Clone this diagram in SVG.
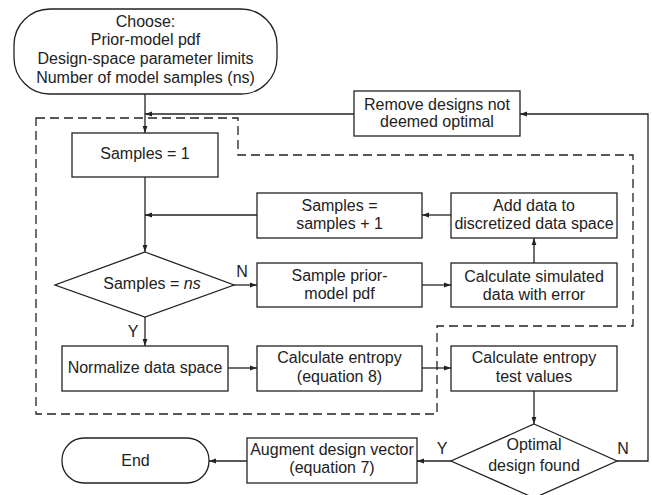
<svg xmlns="http://www.w3.org/2000/svg" width="652" height="495" viewBox="0 0 652 495">
<defs>
<marker id="ah" markerUnits="userSpaceOnUse" markerWidth="8" markerHeight="6" refX="7" refY="3" orient="auto">
<path d="M0,0.6 L7,3 L0,5.4 Z" fill="#222"/>
</marker>
<style>
.n{fill:#fff;stroke:#222;stroke-width:1.3}
.c{fill:none;stroke:#222;stroke-width:1.3}
.a{marker-end:url(#ah)}
.d{fill:none;stroke:#222;stroke-width:1.3;stroke-dasharray:9 5}
text{font-family:"Liberation Sans",Arial,sans-serif;font-size:16px;fill:#222;text-anchor:middle}
</style>
</defs>
<rect width="652" height="495" fill="#fff"/>
<path class="d" d="M36,118 H238 V155 H633 V326 H437 V414 H36 Z"/>
<g id="connectors">
<line class="c a" x1="145" y1="94" x2="145" y2="133"/>
<line class="c a" x1="354" y1="114" x2="145" y2="114"/>
<line class="c a" x1="145" y1="177" x2="145" y2="252"/>
<line class="c a" x1="257" y1="215" x2="145" y2="215"/>
<line class="c a" x1="451" y1="215" x2="422" y2="215"/>
<line class="c a" x1="234" y1="285" x2="257" y2="285"/>
<line class="c a" x1="422" y1="285" x2="451" y2="285"/>
<line class="c a" x1="534" y1="263" x2="534" y2="238"/>
<line class="c a" x1="145" y1="317" x2="145" y2="346"/>
<line class="c a" x1="228" y1="368" x2="257" y2="368"/>
<line class="c a" x1="422" y1="368" x2="451" y2="368"/>
<line class="c a" x1="534" y1="391" x2="534" y2="424"/>
<line class="c a" x1="451" y1="461" x2="417" y2="461"/>
<line class="c a" x1="247" y1="461" x2="209" y2="461"/>
<path class="c a" d="M617,461 H648 V114 H520"/>
<text x="242" y="277">N</text>
<text x="133" y="337">Y</text>
<text x="442" y="454">Y</text>
<text x="623" y="454">N</text>
</g>
<g id="start">
<rect class="n" x="14" y="9" width="263" height="85" rx="36"/>
<text x="145.5" y="27">Choose:</text>
<text x="145.5" y="45">Prior-model pdf</text>
<text x="145.5" y="64">Design-space parameter limits</text>
<text x="145.5" y="83">Number of model samples (ns)</text>
</g>
<g id="remove">
<rect class="n" x="354" y="91" width="166" height="45"/>
<text x="437" y="110">Remove designs not</text>
<text x="437" y="127">deemed optimal</text>
</g>
<g id="samples1">
<rect class="n" x="72" y="133" width="146" height="44"/>
<text x="145" y="159">Samples = 1</text>
</g>
<g id="increment">
<rect class="n" x="257" y="193" width="165" height="45"/>
<text x="339.5" y="211">Samples =</text>
<text x="339.5" y="229">samples + 1</text>
</g>
<g id="adddata">
<rect class="n" x="451" y="193" width="166" height="45"/>
<text x="534" y="211">Add data to</text>
<text x="534" y="229">discretized data space</text>
</g>
<g id="decision1">
<polygon class="n" points="145,252 234,285 145,317 55,285"/>
<text x="152" y="289">Samples = <tspan font-style="italic">ns</tspan></text>
</g>
<g id="sampleprior">
<rect class="n" x="257" y="263" width="165" height="44"/>
<text x="339.5" y="281">Sample prior-</text>
<text x="339.5" y="299">model pdf</text>
</g>
<g id="simulate">
<rect class="n" x="451" y="263" width="166" height="44"/>
<text x="534" y="282">Calculate simulated</text>
<text x="534" y="300">data with error</text>
</g>
<g id="normalize">
<rect class="n" x="62" y="346" width="166" height="45"/>
<text x="145" y="373">Normalize data space</text>
</g>
<g id="entropy">
<rect class="n" x="257" y="346" width="165" height="45"/>
<text x="339.5" y="363">Calculate entropy</text>
<text x="339.5" y="382">(equation 8)</text>
</g>
<g id="testvalues">
<rect class="n" x="451" y="346" width="166" height="45"/>
<text x="534" y="363">Calculate entropy</text>
<text x="534" y="382">test values</text>
</g>
<g id="decision2">
<polygon class="n" points="534,424 617,461 534,498 451,461"/>
<text x="534" y="450">Optimal</text>
<text x="534" y="471">design found</text>
</g>
<g id="augment">
<rect class="n" x="247" y="438" width="170" height="45"/>
<text x="332" y="455">Augment design vector</text>
<text x="332" y="473">(equation 7)</text>
</g>
<g id="end">
<rect class="n" x="62" y="438" width="147" height="45" rx="22"/>
<text x="135.5" y="466">End</text>
</g>
</svg>
